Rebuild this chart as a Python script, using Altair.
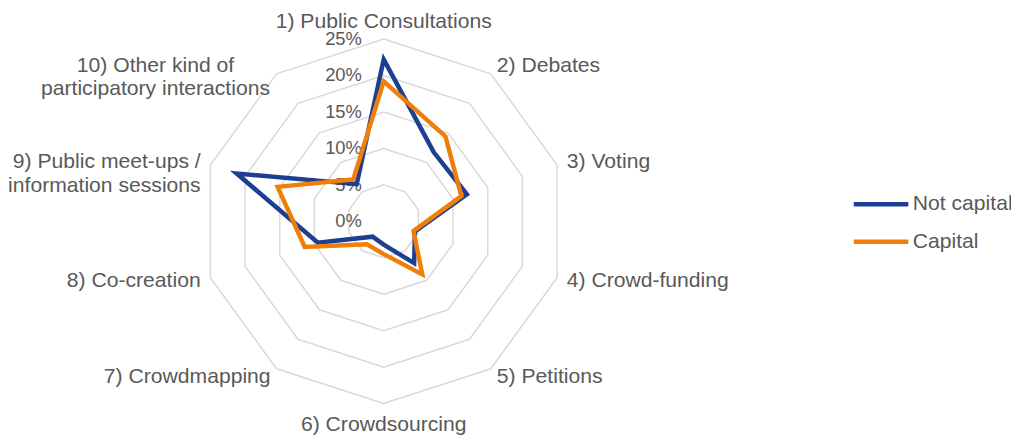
import altair as alt
import pandas as pd

categories = [
    "1) Public Consultations",
    "2) Debates",
    "3) Voting",
    "4) Crowd-funding",
    "5) Petitions",
    "6) Crowdsourcing",
    "7) Crowdmapping",
    "8) Co-creation",
    "9) Public meet-ups /\ninformation sessions",
    "10) Other kind of\nparticipatory interactions",
]
not_capital = [22.2, 11.7, 12.0, 4.5, 7.1, 3.2, 2.6, 9.5, 21.2, 6.3]
capital = [19.2, 14.4, 11.2, 4.3, 9.0, 4.5, 3.9, 11.4, 15.3, 7.1]
series_names = ["Not capital", "Capital"]
ring_levels = [5, 10, 15, 20, 25]
tick_levels = [0, 5, 10, 15, 20, 25]
tick_labels = ["0%", "5%", "10%", "15%", "20%", "25%"]

BLUE = "#1D3F91"
ORANGE = "#F07F09"
GRID = "#D9D9D9"
TEXT = "#595959"
N = len(categories)

# series table (path repeats first two points so the polygon closes with a join)
rows = []
for name, vals in zip(series_names, [not_capital, capital]):
    for i in range(N + 2):
        rows.append({"series": name, "idx": i, "value": vals[i % N]})
series_df = pd.DataFrame(rows)

ring_rows = []
for lv in ring_levels:
    for i in range(N + 2):
        ring_rows.append({"level": lv, "idx": i, "value": lv})
ring_df = pd.DataFrame(ring_rows)

tick_df = pd.DataFrame({"value": tick_levels, "label": tick_labels})
cat_df = pd.DataFrame({"idx": list(range(N)), "label": categories})

xscale = alt.Scale(domain=[-51.54, 86.05], nice=False, zero=False)
yscale = alt.Scale(domain=[-29.49, 29.03], nice=False, zero=False)


def polar_xy(chart, rfield="datum.value"):
    return chart.transform_calculate(
        ang="datum.idx * 2 * PI / %d" % N
    ).transform_calculate(
        px=f"{rfield} * sin(datum.ang)",
        py=f"{rfield} * cos(datum.ang)",
    )


X = alt.X("px:Q", scale=xscale, axis=None)
Y = alt.Y("py:Q", scale=yscale, axis=None)

rings = polar_xy(alt.Chart(ring_df)).mark_line(
    color=GRID, strokeWidth=1.5, strokeJoin="miter"
).encode(x=X, y=Y, detail="level:N", order="idx:Q")

ticks = alt.Chart(tick_df).transform_calculate(
    px="0", py="datum.value"
).mark_text(
    align="right", baseline="middle", dx=-22, fontSize=18.5, color=TEXT
).encode(x=X, y=Y, text="label:N")

color = alt.Color(
    "series:N",
    scale=alt.Scale(domain=series_names, range=[BLUE, ORANGE]),
    legend=alt.Legend(
        title=None,
        orient="none",
        legendX=850,
        legendY=177,
        padding=0,
        symbolType="stroke",
        symbolSize=3025,
        symbolStrokeWidth=4.5,
        clipHeight=38,
        rowPadding=0,
        labelOffset=2,
        labelFontSize=21.3,
        labelColor=TEXT,
    ),
)


def series_layer(name):
    return polar_xy(alt.Chart(series_df)).transform_filter(
        alt.datum.series == name
    ).mark_line(strokeWidth=4.5, strokeJoin="miter", strokeMiterLimit=10).encode(
        x=X, y=Y, color=color, order="idx:Q"
    )


blue_line = series_layer("Not capital")
orange_line = series_layer("Capital")

LABEL_R = 26.4


def label_layer(idxs, **kw):
    return polar_xy(alt.Chart(cat_df), rfield=str(LABEL_R)).transform_filter(
        alt.FieldOneOfPredicate(field="idx", oneOf=idxs)
    ).mark_text(fontSize=21.3, color=TEXT, lineBreak="\n", lineHeight=24, **kw).encode(
        x=X, y=Y, text="label:N"
    )


lab_top = label_layer([0], align="center", baseline="bottom", dy=3)
lab_right = label_layer([1, 2, 3, 4], align="left", baseline="middle")
lab_bottom = label_layer([5], align="center", baseline="top")
lab_left = label_layer([6, 7, 8], align="right", baseline="middle")
lab_other = label_layer([9], align="center", baseline="middle", dx=-116)

chart = alt.layer(
    rings, ticks, blue_line, orange_line,
    lab_top, lab_right, lab_bottom, lab_left, lab_other,
).properties(
    width=1011,
    height=430,
    padding=0,
    autosize=alt.AutoSizeParams(type="none"),
).configure(font="Liberation Sans").configure_view(stroke=None)

chart.save("out.html", embed_options={"renderer": "svg", "actions": False})
